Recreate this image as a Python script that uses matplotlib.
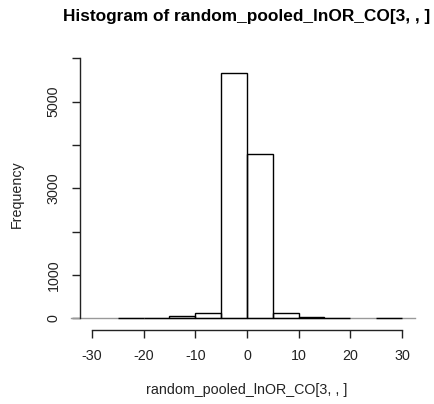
import numpy as np
import matplotlib.pyplot as plt

plt.rcParams['font.family'] = ['Liberation Sans', 'DejaVu Sans']

# histogram of random_pooled_lnOR_CO[3, , ], bins of width 5
bin_edges = np.arange(-30, 31, 5)
counts = [0, 12, 12, 45, 125, 5670, 3800, 125, 40, 12, 0, 10]
x_ticks = [-30, -20, -10, 0, 10, 20, 30]
y_ticks = [0, 1000, 2000, 3000, 4000, 5000, 6000]
y_labels = ['0', '1000', '', '3000', '', '5000', '']

W, H = 435, 404
fig = plt.figure(figsize=(W / 100, H / 100), dpi=100)
# plot region in pixels (R-like margins)
left, right, top, bottom = 79.6, 414.4, 58.3, 330.0
ax = fig.add_axes([left / W, 1 - bottom / H, (right - left) / W, (bottom - top) / H])

edge_cols = ['black' if c > 0 else 'none' for c in counts]
ax.bar(bin_edges[:-1], counts, width=5, align='edge', fill=False,
       edgecolor=edge_cols, linewidth=1.0, zorder=3)
# grey baseline like the zero-height rects in R
ax.plot([-34.06, 32.5], [0, 0], color='#999999', lw=1.0, clip_on=False, zorder=2)

ax.set_xlim(-32.4, 32.4)
ax.set_ylim(-270, 6000)

for s in ['top', 'right']:
    ax.spines[s].set_visible(False)
ax.spines['bottom'].set_bounds(-30, 30)
ax.spines['left'].set_bounds(0, 6000)
for s in ['bottom', 'left']:
    ax.spines[s].set_color('#222222')
    ax.spines[s].set_linewidth(1.0)

ax.set_xticks(x_ticks)
ax.set_xticklabels([str(t) for t in x_ticks])
ax.set_yticks(y_ticks)
ax.set_yticklabels(y_labels, rotation=90, va='center')
ax.tick_params(axis='both', length=5.8, width=1.0, color='#222222',
               labelsize=10.3, pad=8, labelcolor='#222222')

ax.set_xlabel('random_pooled_lnOR_CO[3, , ]', fontsize=10.3, labelpad=14, color='#222222')
ax.set_ylabel('Frequency', fontsize=10.3, labelpad=16, color='#222222')
ax.set_title('Histogram of random_pooled_lnOR_CO[3, , ]', fontsize=12.4,
             fontweight='bold', pad=27)

fig.savefig('out.png', dpi=100)
